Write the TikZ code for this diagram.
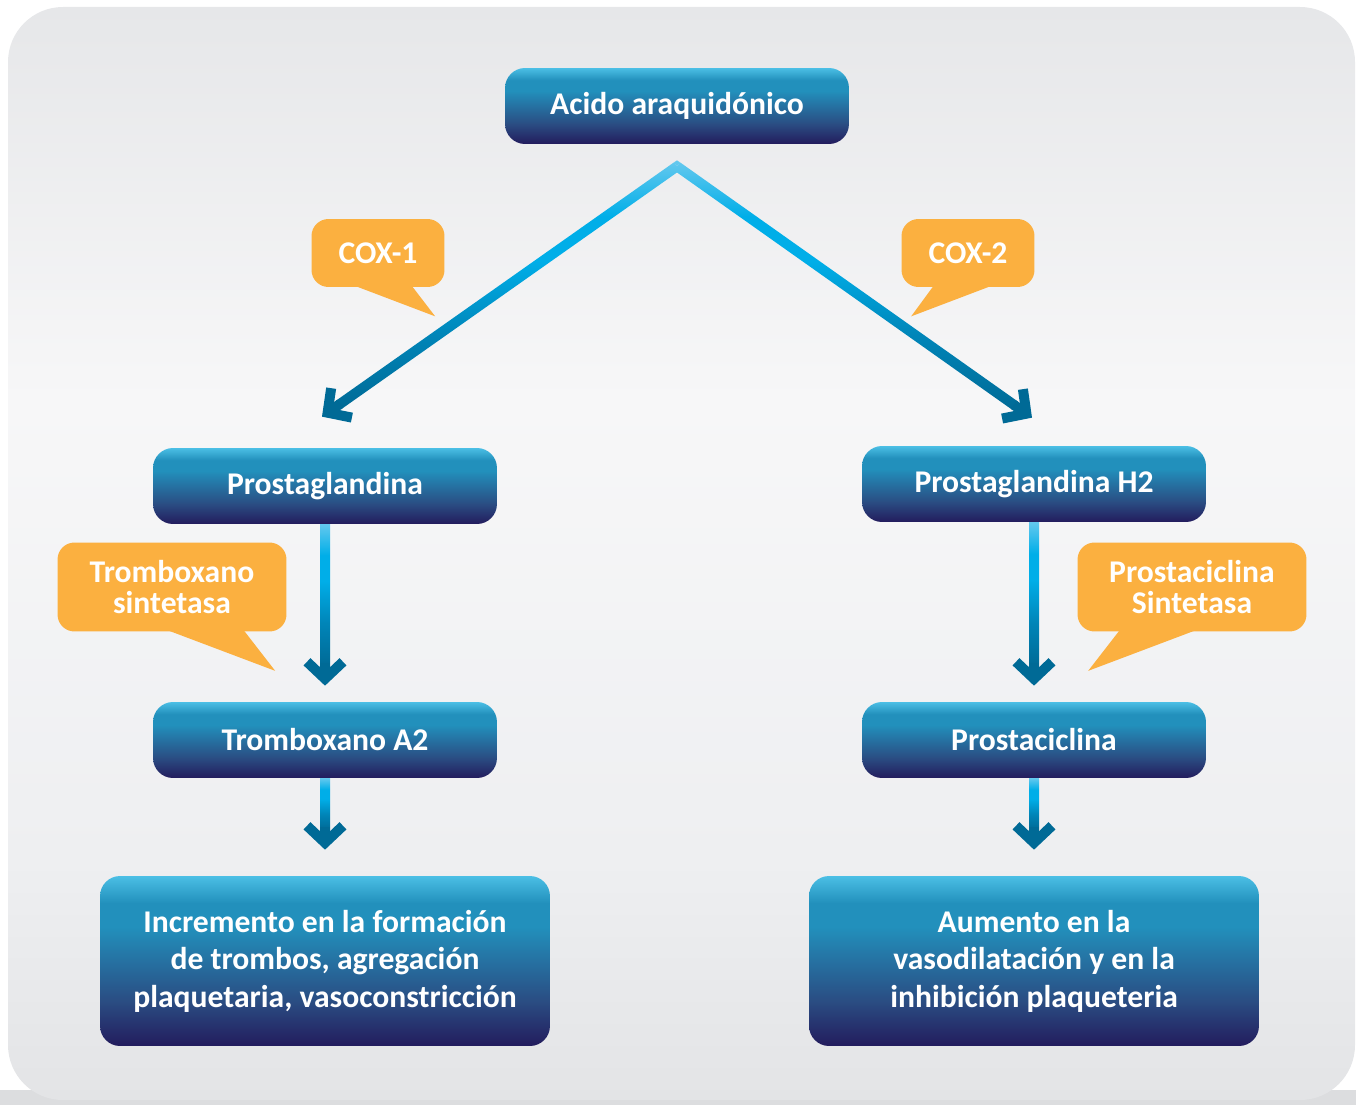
\documentclass[tikz,border=0pt]{standalone}
\usepackage{fontspec}
\setmainfont{Carlito}
\usetikzlibrary{positioning,calc,arrows.meta}

\definecolor{boxtop}{HTML}{4BBFE5}
\definecolor{boxmid}{HTML}{2290BC}
\definecolor{boxlow}{HTML}{2A4C82}
\definecolor{boxbot}{HTML}{231C5D}
\definecolor{flowlight}{HTML}{62C8EE}
\definecolor{flowmid}{HTML}{00AEE8}
\definecolor{flowlow}{HTML}{0085B8}
\definecolor{flowdark}{HTML}{006A96}
\definecolor{enzorange}{HTML}{FBB040}
\definecolor{bgtop}{HTML}{E6E7E9}
\definecolor{bgmid}{HTML}{F7F7F8}
\definecolor{bglow}{HTML}{EEEFF1}
\definecolor{bgbot}{HTML}{E3E4E6}
\definecolor{bgshadow}{HTML}{DCDDDF}

\pgfdeclareverticalshading{boxshade}{100bp}{color(0bp)=(boxbot); color(25bp)=(boxbot); color(38bp)=(boxlow); color(60bp)=(boxmid); color(67bp)=(boxmid); color(75bp)=(boxtop); color(100bp)=(boxtop)}
\pgfdeclareverticalshading{bgshade}{100bp}{color(0bp)=(bgbot); color(25bp)=(bgbot); color(36bp)=(bglow); color(57bp)=(bgmid); color(75bp)=(bgtop); color(100bp)=(bgtop)}
\pgfdeclareverticalshading{flowshade}{100bp}{color(0bp)=(flowdark); color(25bp)=(flowdark); color(40bp)=(flowlow); color(55bp)=(flowmid); color(64bp)=(flowmid); color(75bp)=(flowlight); color(100bp)=(flowlight)}

% shaded shaft plus dark barb head
\newcommand{\flowarrow}[2]{%
  \coordinate (shaftend) at ($(#2)!0.4cm!(#1)$);
  \shade[shading=flowshade]
    ($(#1)!0.1cm!90:(shaftend)$) -- ($(#1)!0.1cm!-90:(shaftend)$) --
    ($(shaftend)!0.1cm!90:(#1)$) -- ($(shaftend)!0.1cm!-90:(#1)$) -- cycle;
  \draw[flowhead] ($(#2)!0.45cm!(#1)$) -- (#2);}

\begin{document}
\begin{tikzpicture}[x=0.02cm, y=-0.02cm,
    mainbox/.style={shade, shading=boxshade, rounded corners=0.4cm, text=white,
        minimum width=6.88cm, minimum height=1.52cm,
        font=\fontsize{18}{21.3}\selectfont\bfseries},
    endbox/.style={mainbox, minimum width=9cm, minimum height=3.4cm, align=center},
    enz/.style={fill=enzorange, rounded corners=0.34cm, text=white, align=center,
        font=\fontsize{18}{17.6}\selectfont\bfseries},
    flowhead/.style={draw=flowdark, line width=0.2cm,
        -{Straight Barb[length=0.34cm, width=0.72cm]}}]
    \useasboundingbox (0,0) rectangle (1356,1105);

    % Backdrop
    \fill[bgshadow] (0,1090) rectangle (1356,1105);
    \shade[shading=bgshade, rounded corners=1.1cm] (8,7) rectangle (1355,1100);

    % Boxes
    \node[mainbox] (aa) at (677,106) {Acido araquidónico};
    \node[mainbox] (pg) at (325,486) {Prostaglandina};
    \node[mainbox] (pgh) at (1034,484) {Prostaglandina H2};
    \node[mainbox] (tx) at (325,740) {Tromboxano A2};
    \node[mainbox] (pc) at (1034,740) {Prostaciclina};
    \node[endbox] (inc) at (325,961) {Incremento en la formación\\de trombos, agregación\\plaquetaria, vasoconstricción};
    \node[endbox] (aum) at (1034,961) {Aumento en la\\vasodilatación y en la\\inhibición plaqueteria};

    % Enzyme callouts
    \node[enz, minimum width=2.66cm, minimum height=1.36cm] (cox1) at (378,253) {COX-1};
    \fill[enzorange] ($(cox1.south west)+(45,-1)$) -- ($(cox1.south west)+(101,-1)$) -- ($(cox1.south west)+(124,29)$) -- cycle;
    \node[enz, minimum width=2.66cm, minimum height=1.36cm] (cox2) at (968,253) {COX-2};
    \fill[enzorange] ($(cox2.south west)+(32,-1)$) -- ($(cox2.south west)+(89,-1)$) -- ($(cox2.south west)+(10,29)$) -- cycle;
    \node[enz, minimum width=4.58cm, minimum height=1.78cm] (tsyn) at (172,587) {Tromboxano\\sintetasa};
    \fill[enzorange] ($(tsyn.south west)+(112,-1)$) -- ($(tsyn.south west)+(187,-1)$) -- ($(tsyn.south west)+(218,39)$) -- cycle;
    \node[enz, minimum width=4.58cm, minimum height=1.78cm] (psyn) at (1192,587) {Prostaciclina\\Sintetasa};
    \fill[enzorange] ($(psyn.south west)+(42,-1)$) -- ($(psyn.south west)+(117,-1)$) -- ($(psyn.south west)+(11,39)$) -- cycle;

    % Arrows
    \coordinate (apex) at ($(aa.south)+(0,22)$);
    \coordinate (tl) at ($(pg.north)+(-3,-31)$);
    \coordinate (tr) at ($(pgh.north)+(-2,-28)$);
    \coordinate (txin) at ($(tx.north)+(0,-16)$);
    \coordinate (pcin) at ($(pc.north)+(0,-16)$);
    \coordinate (incin) at ($(inc.north)+(0,-26)$);
    \coordinate (aumin) at ($(aum.north)+(0,-26)$);
    \flowarrow{apex}{tl}
    \flowarrow{apex}{tr}
    \fill[flowlight] (apex) -- ($(apex)!0.1cm!-90:(tl)$) -- ($(apex)+(0,-6)$) -- ($(apex)!0.1cm!90:(tr)$) -- cycle;
    \flowarrow{pg.south}{txin}
    \flowarrow{pgh.south}{pcin}
    \flowarrow{tx.south}{incin}
    \flowarrow{pc.south}{aumin}
\end{tikzpicture}
\end{document}
